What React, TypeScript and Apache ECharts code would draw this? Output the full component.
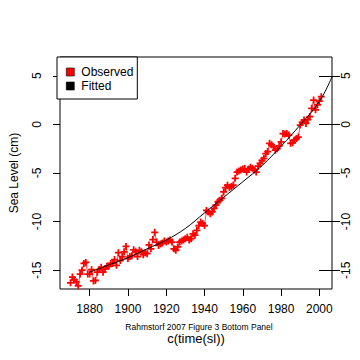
import React, { useEffect, useRef } from "react";
import * as echarts from "echarts";

const obsStartYear = 1870;
const observed = [
  -16.3, -15.7, -16.0, -16.2, -16.6, -15.4, -15.0, -14.3, -14.2, -15.4,
  -15.4, -14.95, -16.1, -16.05, -15.2, -14.95, -14.7, -15.2, -14.85, -14.6,
  -14.6, -14.3, -14.3, -13.9, -14.5, -13.2, -14.0, -13.6, -13.1, -12.55,
  -13.8, -13.6, -13.5, -12.9, -13.1, -13.6, -12.95, -13.1, -13.4, -13.2,
  -13.3, -12.4, -12.8, -11.85, -11.1, -12.1, -12.45, -12.3, -12.2, -12.0,
  -12.1, -12.0, -11.9, -12.1, -12.8, -12.95, -12.6, -12.1, -12.0, -11.9,
  -11.75, -11.6, -11.9, -11.75, -11.25, -11.4, -10.9, -10.4, -10.05, -10.2,
  -10.4, -8.85, -9.0, -9.2, -9.0, -8.65, -8.3, -7.95, -7.8, -7.6,
  -6.95, -6.5, -6.25, -6.5, -6.4, -6.25, -5.55, -4.9, -4.8, -4.7,
  -4.6, -4.55, -4.9, -4.6, -4.4, -4.5, -4.7, -4.9, -4.3, -4.0,
  -3.7, -3.5, -3.0, -2.8, -1.95, -2.1, -2.3, -2.65, -2.5, -2.2,
  -1.8, -0.95, -1.0, -0.95, -1.1, -1.95, -1.9, -1.6, -1.45, -1.3,
  -0.07, 0.2, 0.45, 0.1, 0.5, 0.8, 1.65, 2.5, 1.5, 2.0,
  2.4, 2.85,
];

const fittedYears = [1880, 1890, 1900, 1910, 1920, 1930, 1940, 1950, 1960, 1970, 1980, 1990, 2000, 2006.6];
const fittedValues = [-15.2, -14.45, -13.7, -12.8, -11.9, -10.7, -9.1, -7.5, -5.9, -4.25, -2.25, -0.05, 2.35, 4.9];

const xTicks = [1880, 1900, 1920, 1940, 1960, 1980, 2000];
const yTicks = [-15, -10, -5, 0, 5];

const FONT = "Liberation Sans";
const GRID_LEFT = 57;
const GRID_RIGHT = 28;
const CHART_W = 360;

export default function App() {
  const ref = useRef<HTMLDivElement>(null);
  useEffect(() => {
    if (!ref.current) return;
    const chart = echarts.init(ref.current, undefined, { renderer: "svg" });
    const obsData = observed.map((v, i) => [obsStartYear + i, v]);
    const fitData = fittedYears.map((y, i) => [y, fittedValues[i]]);
    const plus = "path://M3,0h2v3h3v2h-3v3h-2v-3h-3v-2h3z";
    const gridWidth = CHART_W - GRID_LEFT - GRID_RIGHT;
    const yBase = {
      type: "value",
      min: -16.93,
      max: 6.93,
      splitLine: { show: false },
      axisLine: { show: false, onZero: false },
    };
    const yLabel = (margin: number, inside: boolean) => ({
      customValues: yTicks,
      inside,
      rotate: 90,
      fontSize: 12,
      color: "#000",
      margin,
      fontFamily: FONT,
      formatter: (v: number) => String(v),
    });
    chart.setOption({
      animation: false,
      backgroundColor: "#fff",
      title: {
        text: "Rahmstorf 2007 Figure 3 Bottom Panel",
        left: 194,
        top: 317,
        textAlign: "center",
        textStyle: { fontSize: 8.5, fontWeight: "normal", color: "#000", fontFamily: FONT },
      },
      grid: {
        left: GRID_LEFT,
        top: 57,
        right: GRID_RIGHT,
        bottom: 71,
        show: true,
        borderColor: "#000",
        borderWidth: 1,
        backgroundColor: "transparent",
      },
      legend: {
        left: 57,
        top: 57,
        orient: "vertical",
        backgroundColor: "#fff",
        borderColor: "#000",
        borderWidth: 1,
        borderRadius: 0,
        padding: [8, 4, 6, 9],
        itemGap: 0,
        itemWidth: 8,
        itemHeight: 8,
        textStyle: { fontSize: 12, lineHeight: 14, color: "#000", fontFamily: FONT, padding: [0, 0, 0, 2] },
        data: [
          { name: "Observed", icon: "rect", itemStyle: { color: "#ff0000", borderColor: "#000", borderWidth: 0.6 } },
          { name: "Fitted", icon: "rect", itemStyle: { color: "#000", borderColor: "#000", borderWidth: 0.6 } },
        ],
      },
      xAxis: {
        type: "value",
        min: 1864.5,
        max: 2006.6,
        name: "c(time(sl))",
        nameLocation: "middle",
        nameGap: 43,
        nameTextStyle: { fontSize: 13, color: "#000", fontFamily: FONT },
        splitLine: { show: false },
        axisLine: { show: false, onZero: false },
        axisTick: { show: true, customValues: xTicks, length: 7, lineStyle: { color: "#000" } },
        axisLabel: {
          customValues: xTicks,
          fontSize: 12,
          color: "#000",
          margin: 14,
          fontFamily: FONT,
          formatter: (v: number) => String(v),
        },
      },
      yAxis: [
        {
          ...yBase,
          position: "left",
          name: "Sea Level (cm)",
          nameLocation: "middle",
          nameRotate: 90,
          nameGap: 40,
          nameTextStyle: { fontSize: 12, color: "#000", fontFamily: FONT },
          axisTick: { show: true, customValues: yTicks, length: 7, lineStyle: { color: "#000" } },
          axisLabel: { show: false },
        },
        {
          ...yBase,
          position: "right",
          axisTick: { show: true, customValues: yTicks, length: 8, lineStyle: { color: "#000" } },
          axisLabel: yLabel(8, false),
        },
        {
          ...yBase,
          position: "right",
          axisTick: { show: true, inside: true, customValues: yTicks, length: 13, lineStyle: { color: "#000" } },
          axisLabel: { show: false },
        },
        {
          ...yBase,
          position: "right",
          offset: -gridWidth,
          axisTick: { show: false },
          axisLabel: yLabel(14, true),
        },
      ],
      series: [
        {
          name: "Observed",
          type: "line",
          data: obsData,
          yAxisIndex: 0,
          symbol: plus,
          symbolSize: 7,
          itemStyle: { color: "#ff0000" },
          lineStyle: { color: "#ff5050", width: 1 },
          z: 2,
        },
        {
          name: "Fitted",
          type: "line",
          data: fitData,
          yAxisIndex: 0,
          smooth: 0.4,
          showSymbol: false,
          symbol: "none",
          itemStyle: { color: "#000" },
          lineStyle: { color: "#000", width: 1 },
          z: 3,
        },
      ],
    });
    return () => chart.dispose();
  }, []);
  return (
    <div
      ref={ref}
      style={{ position: "absolute", left: 0, top: 0, width: 360, height: 360, background: "#fff" }}
    />
  );
}
